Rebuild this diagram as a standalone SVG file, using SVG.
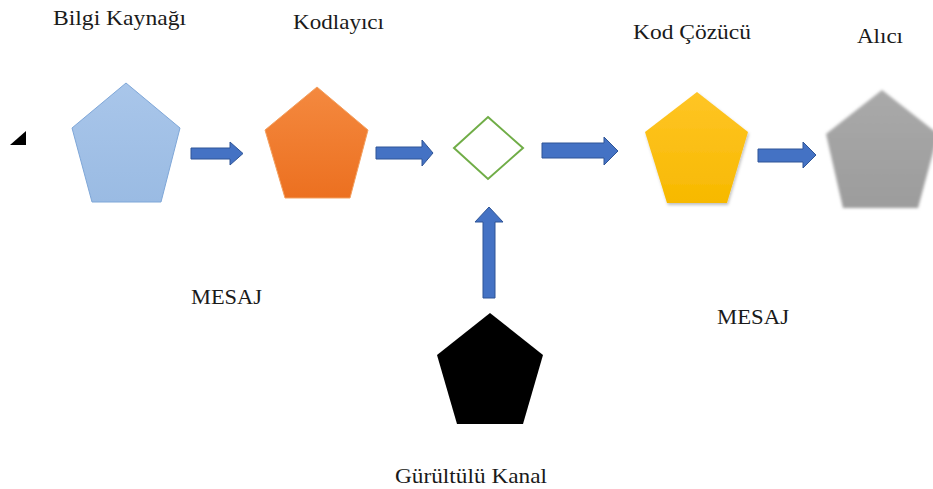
<svg xmlns="http://www.w3.org/2000/svg" width="933" height="489" viewBox="0 0 933 489">
  <style>
    .lbl { font-family: "Liberation Serif", "Times New Roman", serif; font-size: 22px; fill: #1a1a1a; }
    .arrow { fill: #4472C4; stroke: #2F5597; stroke-width: 1; }
  </style>
  <defs>
    <linearGradient id="gBlue" x1="0" y1="0" x2="0" y2="1">
      <stop offset="0" stop-color="#A9C6EA"/>
      <stop offset="1" stop-color="#9ABBE3"/>
    </linearGradient>
    <linearGradient id="gOrange" x1="0" y1="0" x2="0" y2="1">
      <stop offset="0" stop-color="#F4893F"/>
      <stop offset="1" stop-color="#EC7020"/>
    </linearGradient>
    <linearGradient id="gYellow" x1="0" y1="0" x2="0" y2="1">
      <stop offset="0" stop-color="#FFC526"/>
      <stop offset="1" stop-color="#F7B900"/>
    </linearGradient>
    <linearGradient id="gGray" x1="0" y1="0" x2="0" y2="1">
      <stop offset="0" stop-color="#A9A9A9"/>
      <stop offset="1" stop-color="#9C9C9C"/>
    </linearGradient>
    <filter id="soft" x="-10%" y="-10%" width="120%" height="120%">
      <feGaussianBlur stdDeviation="1.6"/>
    </filter>
    <filter id="shadow" x="-10%" y="-10%" width="125%" height="125%">
      <feDropShadow dx="1" dy="2" stdDeviation="1.5" flood-color="#000" flood-opacity="0.25"/>
    </filter>
  </defs>

  <rect width="933" height="489" fill="#fff"/>

  <g id="marker-triangle">
    <polygon points="10,145 26,131 26,145" fill="#000"/>
  </g>

  <g id="node-bilgi-kaynagi">
    <polygon points="126,83 180,128 161,202 92,202 72,128" fill="url(#gBlue)" stroke="#7FA7D8" stroke-width="1"/>
    <text class="lbl" x="53" y="25" textLength="133" lengthAdjust="spacingAndGlyphs">Bilgi Kaynağı</text>
  </g>

  <g id="node-kodlayici">
    <polygon points="317,87 368,130 350,198 285,198 265,130" fill="url(#gOrange)" stroke="#F3A060" stroke-width="1"/>
    <text class="lbl" x="293" y="29" textLength="91" lengthAdjust="spacingAndGlyphs">Kodlayıcı</text>
  </g>

  <g id="node-kanal-nokta">
    <polygon points="488,117 523,148 488,179 454,148" fill="#fff" stroke="#70AD47" stroke-width="2"/>
  </g>

  <g id="node-kod-cozucu">
    <polygon points="697,92 748,132 727,203 667,203 645,132" fill="url(#gYellow)" filter="url(#shadow)"/>
    <text class="lbl" x="633" y="39" textLength="118" lengthAdjust="spacingAndGlyphs">Kod Çözücü</text>
  </g>

  <g id="node-alici">
    <polygon points="882,90 938,134 918,208 843,208 826,134" fill="url(#gGray)" filter="url(#soft)"/>
    <text class="lbl" x="857" y="43" textLength="46" lengthAdjust="spacingAndGlyphs">Alıcı</text>
  </g>

  <g id="node-gurultulu-kanal">
    <polygon points="490,313 543,355 523,424 457,424 437,355" fill="#000"/>
    <text class="lbl" x="395" y="483" textLength="152" lengthAdjust="spacingAndGlyphs">Gürültülü Kanal</text>
  </g>

  <g id="label-mesaj-1">
    <text class="lbl" x="191" y="304" textLength="71" lengthAdjust="spacingAndGlyphs">MESAJ</text>
  </g>
  <g id="label-mesaj-2">
    <text class="lbl" x="717" y="324" textLength="72" lengthAdjust="spacingAndGlyphs">MESAJ</text>
  </g>

  <g id="connectors">
    <polygon class="arrow" points="191,148 230,148 230,142 243,153.5 230,165 230,159 191,159"/>
    <polygon class="arrow" points="376,147 422,147 422,140 433,153 422,166 422,159 376,159"/>
    <polygon class="arrow" points="542,143 604,143 604,137 618,151 604,165 604,158 542,158"/>
    <polygon class="arrow" points="758,149 803,149 803,142 816,155 803,168 803,162 758,162"/>
    <polygon class="arrow" points="483,298 483,222 475,222 489,207 503,222 495,222 495,298"/>
  </g>
</svg>
